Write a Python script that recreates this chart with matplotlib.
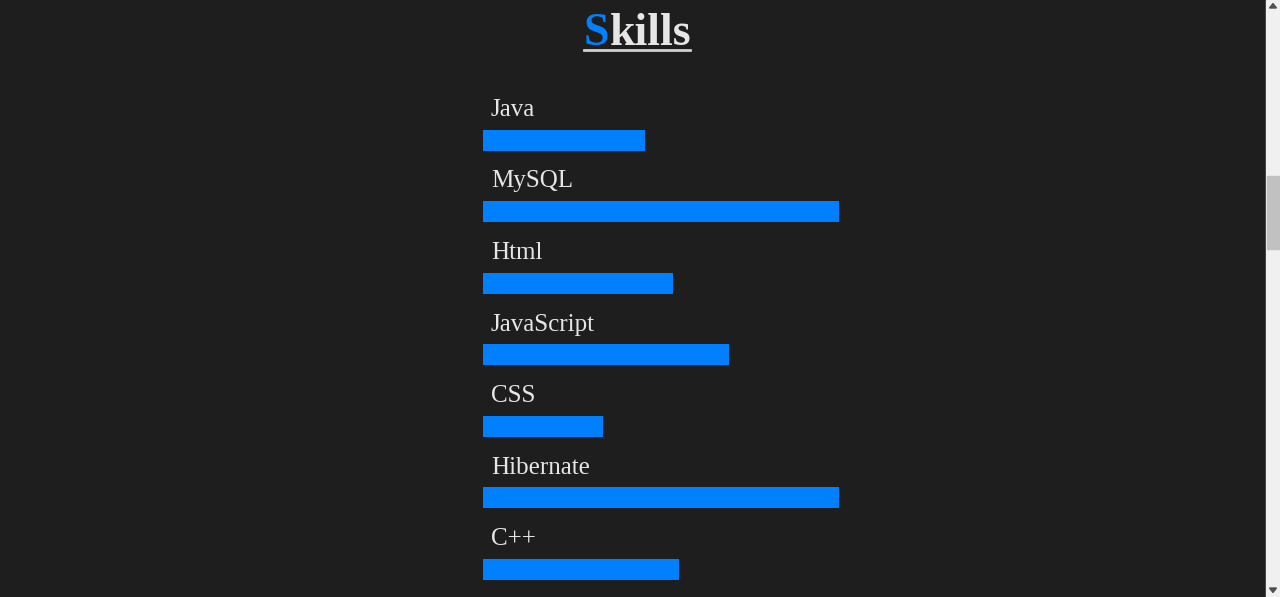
import matplotlib
matplotlib.use("Agg")
from matplotlib import pyplot as plt
from matplotlib.patches import Rectangle, Polygon
from matplotlib.lines import Line2D

# skill levels, percent of the bar track
skills = ["Java", "MySQL", "Html", "JavaScript", "CSS", "Hibernate", "C++"]
levels = [41, 90, 48, 62, 30.3, 90, 49.5]

W, H = 1280, 597
BG = "#1e1e1e"
BLUE = "#0080ff"
TEXT = "#e6e6e6"

fig = plt.figure(figsize=(W / 100, H / 100), dpi=100, facecolor=BG)


def px(x, y):
    # pixel (from top-left) -> figure fraction
    return x / W, 1 - y / H


# bar area: track is 396px wide starting at x=483, rows 71.5px apart
pitch = 71.54
first = 140.25
top_px = 90
ax = fig.add_axes([483 / W, 0, 396 / W, (H - top_px) / H])
ax.set_facecolor(BG)
ax.set_xlim(0, 100)
ax.set_ylim((H - first) / pitch, (top_px - first) / pitch)
ax.axis("off")

ypos = list(range(len(skills)))
ax.barh(ypos, levels, height=21 / pitch, left=0, color=BLUE, align="center")
for y, name in zip(ypos, skills):
    ax.text(2.0, y - 0.34, name, color=TEXT, fontsize=18,
            family="Liberation Serif", va="baseline", ha="left")

# title "Skills" with blue S and an underline
tx, ty = px(584, 45)
s = fig.text(tx, ty, "S", color=BLUE, fontsize=33, fontweight="bold",
             family="Liberation Serif", va="baseline", ha="left")
r = fig.canvas.get_renderer()
ext = s.get_window_extent(renderer=r)
fig.text((ext.x1 + 0.5) / W, ty, "kills", color=TEXT, fontsize=33,
         fontweight="bold", family="Liberation Serif", va="baseline", ha="left")
x0, yl = px(584, 50)
x1, _ = px(690, 50)
fig.add_artist(Line2D([x0, x1], [yl, yl], color="#d0d0d0", linewidth=2,
                      transform=fig.transFigure))

# browser scrollbar on the right
fig.add_artist(Rectangle(px(1266, 597), 14 / W, 1, color="#f0f0f0",
                         transform=fig.transFigure))
fig.add_artist(Rectangle(px(1267, 249), 12 / W, 73 / H, color="#c1c1c1",
                         transform=fig.transFigure))
fig.add_artist(Polygon([px(1269.5, 8), px(1276.5, 8), px(1273, 3.5)],
                       color="#505050", transform=fig.transFigure))
fig.add_artist(Polygon([px(1269.5, 588), px(1276.5, 588), px(1273, 592.5)],
                       color="#505050", transform=fig.transFigure))

fig.savefig("out.png", dpi=100, facecolor=BG)
